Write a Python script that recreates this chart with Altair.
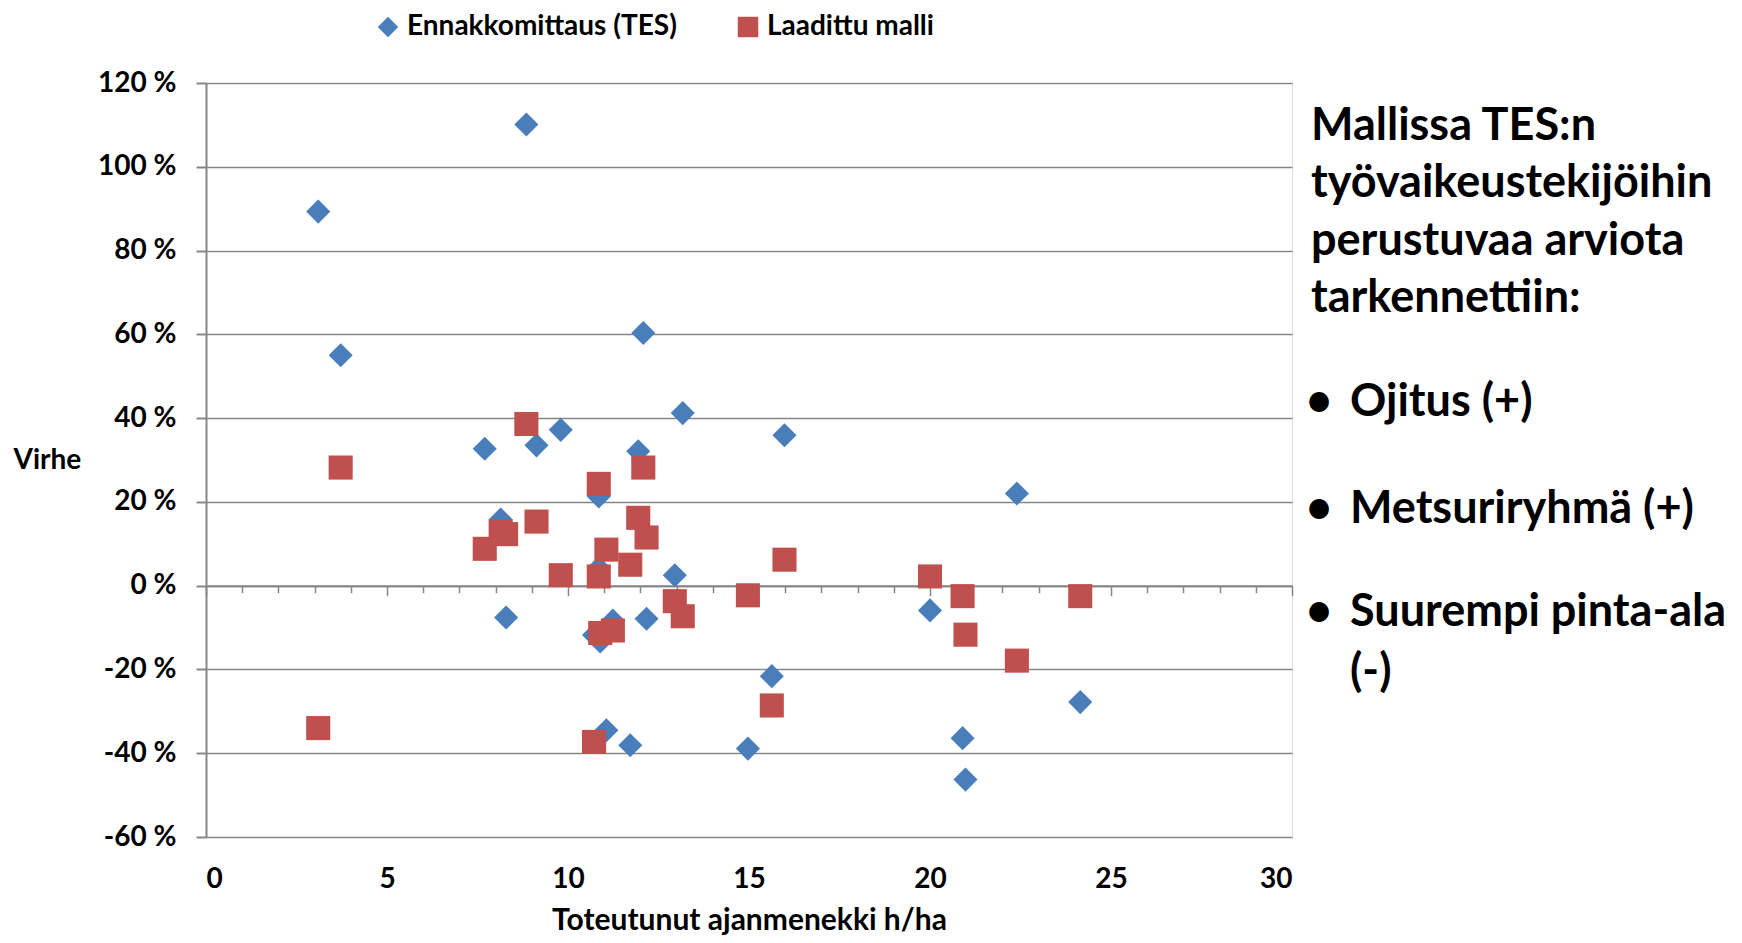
import altair as alt
import pandas as pd

# ---------------- data ----------------
series_names = ["Ennakkomittaus (TES)", "Laadittu malli"]
series_colors = ["#4A7EBB", "#C0504D"]
series_shapes = ["diamond", "square"]

x_hours = [3.10, 3.72, 7.70, 8.14, 8.29, 8.85, 9.13, 9.80, 10.72, 10.85,
           10.85, 10.89, 11.06, 11.24, 11.72, 11.94, 12.08, 12.17, 12.95, 13.17,
           14.97, 15.63, 15.98, 20.00, 20.90, 20.98, 22.40, 24.15]
err_tes = [89.3, 55.0, 32.7, 15.8, -7.6, 110.1, 33.5, 37.2, -11.8, 21.3,
           4.2, -13.3, -34.5, -8.3, -38.1, 32.1, 60.3, -7.9, 2.5, 41.2,
           -38.9, -21.6, 35.9, -5.9, -36.4, -46.3, 22.0, -27.8]
err_model = [-34.0, 28.2, 8.8, 13.0, 12.3, 38.6, 15.3, 2.5, -37.3, 24.3,
             2.2, -11.3, 8.6, -10.7, 5.0, 16.2, 28.2, 11.5, -3.7, -7.3,
             -2.3, -28.6, 6.2, 2.2, -2.5, -11.7, -17.9, -2.5]

y_ticks = [-60, -40, -20, 0, 20, 40, 60, 80, 100, 120]
x_ticks = [0, 5, 10, 15, 20, 25, 30]
x_minor_ticks = list(range(0, 31))

y_title = "Virhe"
x_title = "Toteutunut ajanmenekki h/ha"
note_title = ["Mallissa TES:n", "työvaikeustekijöihin", "perustuvaa arviota", "tarkennettiin:"]
note_bullets = ["Ojitus (+)", "Metsuriryhmä (+)", "Suurempi pinta-ala", "(-)"]
note_bullet_marks = ["•", "•", "•", ""]

n = len(x_hours)
df = pd.DataFrame({
    "x": x_hours + x_hours,
    "err": err_tes + err_model,
    "series": [series_names[0]] * n + [series_names[1]] * n,
})

# ---------------- layout ----------------
FONT = "Lato"
W, H = 1086, 754
YMIN, YMAX = -60, 120
zero_offset = -H * (0 - YMIN) / (YMAX - YMIN)   # move an axis up to the 0 % line
GRAY = "#868686"
TICK_FS = 28
TITLE_FS = 30

xscale = alt.Scale(domain=[0, 30], nice=False, zero=False)
yscale = alt.Scale(domain=[YMIN, YMAX], nice=False)

legend = alt.Legend(
    title=None, orient="none", direction="horizontal",
    legendX=168, legendY=-70,
    labelFont=FONT, labelFontWeight="bold", labelFontSize=28, labelColor="black",
    labelLimit=600,
    symbolSize=420, symbolStrokeWidth=0, labelOffset=5, columnPadding=57,
)

points = alt.Chart(df).mark_point(filled=True, opacity=1, size=580).encode(
    x=alt.X("x:Q", scale=xscale, axis=alt.Axis(
        orient="bottom", offset=zero_offset, values=x_minor_ticks,
        labels=False, title=None, grid=False,
        domain=True, domainColor=GRAY, domainWidth=2,
        ticks=True, tickColor=GRAY, tickWidth=1.5,
        tickSize={"condition": {"test": "datum.value % 5 === 0", "value": 10}, "value": 7},
    )),
    y=alt.Y("err:Q", scale=yscale, axis=alt.Axis(
        values=y_ticks, labelExpr="datum.value + ' %'",
        grid=True, gridColor=GRAY, gridWidth=1.5,
        domain=True, domainColor=GRAY, domainWidth=2,
        ticks=True, tickColor=GRAY, tickWidth=2, tickSize=10,
        labelFont=FONT, labelFontWeight="bold", labelFontSize=TICK_FS, labelColor="black",
        labelPadding=20,
        title=y_title, titleAngle=0, titleX=-193, titleY=377,
        titleAlign="left", titleBaseline="middle",
        titleFont=FONT, titleFontWeight="bold", titleFontSize=TICK_FS, titleColor="black",
    )),
    color=alt.Color("series:N", scale=alt.Scale(domain=series_names, range=series_colors),
                    legend=legend),
    shape=alt.Shape("series:N", scale=alt.Scale(domain=series_names, range=series_shapes),
                    legend=legend),
)

label_axis = alt.Chart(df).mark_point(opacity=0).encode(
    x=alt.X("x:Q", scale=xscale, axis=alt.Axis(
        orient="bottom", values=x_ticks, format="d",
        ticks=False, domain=False, grid=False,
        labelFont=FONT, labelFontWeight="bold", labelFontSize=TICK_FS, labelColor="black",
        labelPadding=28,
        title=x_title, titleY=92, titleBaseline="alphabetic",
        titleFont=FONT, titleFontWeight="bold", titleFontSize=TITLE_FS, titleColor="black",
    )),
)

layers = [points, label_axis]

# note text on the right
NOTE_X = 1105
LINE_H = 57.5
NOTE_FS = 45
for i, line in enumerate(note_title):
    layers.append(
        alt.Chart(pd.DataFrame({"t": [line]})).mark_text(
            font=FONT, fontWeight="bold", fontSize=NOTE_FS, color="black",
            align="left", baseline="middle",
        ).encode(x=alt.value(NOTE_X), y=alt.value(42.5 + i * LINE_H), text="t:N")
    )

bullet_y = [319, 426, 529, 589]
for line, mark, by in zip(note_bullets, note_bullet_marks, bullet_y):
    layers.append(
        alt.Chart(pd.DataFrame({"t": [line]})).mark_text(
            font=FONT, fontWeight="bold", fontSize=NOTE_FS, color="black",
            align="left", baseline="middle",
        ).encode(x=alt.value(1144), y=alt.value(by), text="t:N")
    )
    if mark:
        layers.append(
            alt.Chart(pd.DataFrame({"t": [mark]})).mark_text(
                font=FONT, fontWeight="bold", fontSize=NOTE_FS, color="black",
                align="center", baseline="middle",
            ).encode(x=alt.value(1113), y=alt.value(by), text="t:N")
        )

chart = alt.layer(*layers).resolve_axis(x="independent").properties(
    width=W, height=H,
    autosize=alt.AutoSizeParams(type="none"),
    padding={"left": 198, "top": 75, "right": 440, "bottom": 98},
).configure_view(stroke=None).configure(background="white")

chart.save("out.html", embed_options={"renderer": "svg", "actions": False})
